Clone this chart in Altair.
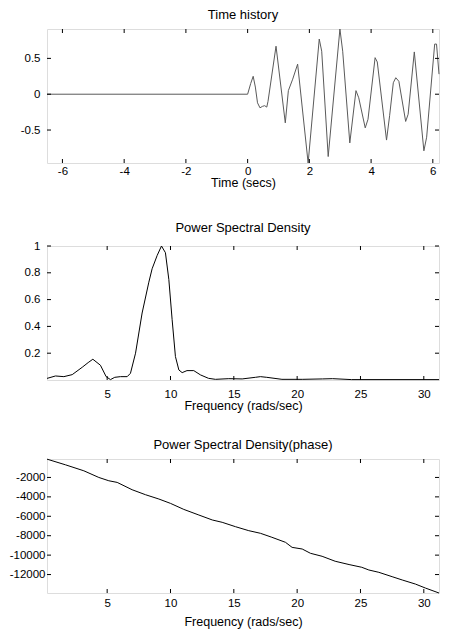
import altair as alt
import pandas as pd

# ---- data ----
t_vals = [-6.5, 0.0, 0.1, 0.18, 0.25, 0.32, 0.4, 0.48, 0.55, 0.62, 0.66, 0.92, 1.22, 1.32, 1.46, 1.62,
          1.96, 2.32, 2.4, 2.61, 2.99, 3.08, 3.31, 3.51, 3.6, 3.81, 3.9, 4.13, 4.2, 4.5, 4.6, 4.72,
          4.8, 4.9, 5.12, 5.2, 5.4, 5.71, 5.8, 6.06, 6.12, 6.2]
x_vals = [0.0, 0.0, 0.15, 0.25, 0.1, -0.12, -0.19, -0.17, -0.16, -0.18, -0.1, 0.67, -0.40, 0.05, 0.21, 0.42,
          -0.96, 0.77, 0.6, -0.87, 0.91, 0.6, -0.68, 0.05, -0.05, -0.47, -0.35, 0.51, 0.45, -0.64, -0.3, 0.16,
          0.23, 0.18, -0.38, -0.28, 0.59, -0.79, -0.6, 0.70, 0.70, 0.28]

psd_freq = [0.25, 0.92, 1.58, 2.24, 3.03, 3.5, 3.87, 4.47, 4.92, 5.26, 5.6, 6.05, 6.58, 6.84, 7.24, 7.76,
            8.29, 8.55, 8.95, 9.29, 9.6, 9.87, 10.13, 10.39, 10.66, 10.92, 11.3, 11.84, 12.37, 13.0,
            13.55, 14.6, 15.66, 16.7, 17.1, 17.6, 18.8, 20.4, 22.0, 22.8, 24.3, 31.2]
psd_vals = [0.012, 0.03, 0.025, 0.04, 0.095, 0.13, 0.155, 0.11, 0.025, 0.003, 0.02, 0.025, 0.025, 0.05, 0.2, 0.5,
            0.73, 0.83, 0.93, 1.0, 0.95, 0.75, 0.45, 0.175, 0.075, 0.055, 0.07, 0.07, 0.038, 0.0125,
            0.005, 0.01, 0.008, 0.02, 0.025, 0.02, 0.005, 0.005, 0.008, 0.01, 0.003, 0.003]

ph_freq = [0.25, 1.71, 3.16, 4.34, 5.13, 5.79, 6.97, 8.03, 9.08, 10.0, 11.05, 12.24, 13.3, 14.08, 15.13,
           16.18, 17.1, 18.0, 19.08, 19.6, 20.4, 21.05, 21.97, 23.0, 24.1, 25.1, 25.66, 26.45, 27.5,
           28.3, 29.34, 30.13, 31.2]
ph_vals = [-116, -700, -1315, -2000, -2340, -2510, -3265, -3780, -4220, -4670, -5290, -5870, -6380, -6620,
           -7070, -7480, -7750, -8160, -8680, -9200, -9370, -9810, -10120, -10630, -10970, -11250, -11530,
           -11770, -12220, -12560, -12980, -13390, -13900]

time_xticks = [-6, -4, -2, 0, 2, 4, 6]
time_yticks = [-0.5, 0, 0.5]
freq_xticks = [5, 10, 15, 20, 25, 30]
psd_yticks = [0.2, 0.4, 0.6, 0.8, 1]
ph_yticks = [-12000, -10000, -8000, -6000, -4000, -2000]

W, H = 392, 134
FONT = "Liberation Sans"
LFS = 11.5  # tick label font size
TFS = 13    # chart title font size
AFS = 12.5  # axis title font size
TL = 4      # inward tick length


def panel(xs, ys, xdom, ydom, xticks, yticks, title, xtitle, color,
          lab_pad_x, title_pad_x, lab_pad_y):
    line_df = pd.DataFrame({"xv": xs, "yv": ys})
    xt_df = pd.DataFrame({"xv": xticks})
    yt_df = pd.DataFrame({"yv": yticks})
    xsc = alt.Scale(domain=xdom, nice=False, zero=False)
    ysc = alt.Scale(domain=ydom, nice=False, zero=False)
    xaxis = alt.Axis(values=xticks, title=xtitle, grid=False, domain=False, ticks=False,
                     labelPadding=lab_pad_x, titlePadding=title_pad_x, labelFlush=False,
                     labelOverlap=False, labelBound=False, labelExpr="'' + datum.value",
                     labelFont=FONT, labelFontSize=LFS, labelColor="black",
                     titleFont=FONT, titleFontSize=AFS, titleFontWeight="normal", titleColor="black")
    yaxis = alt.Axis(values=yticks, title=None, grid=False, domain=False, ticks=False,
                     labelPadding=lab_pad_y, labelFlush=False, labelOverlap=False, labelBound=False,
                     labelExpr="'' + datum.value",
                     labelFont=FONT, labelFontSize=LFS, labelColor="black")
    X = alt.X("xv:Q", scale=xsc, axis=xaxis)
    Y = alt.Y("yv:Q", scale=ysc, axis=yaxis)
    line = alt.Chart(line_df).mark_line(color=color, strokeWidth=1).encode(
        x=X, y=Y, order="xv:Q",
    )
    xt_top = alt.Chart(xt_df).mark_rule(color="black", strokeWidth=1).encode(
        x=X, y=alt.value(0), y2=alt.value(TL))
    xt_bot = alt.Chart(xt_df).mark_rule(color="black", strokeWidth=1).encode(
        x=X, y=alt.value(H - TL), y2=alt.value(H))
    yt_left = alt.Chart(yt_df).mark_rule(color="black", strokeWidth=1).encode(
        y=Y, x=alt.value(0), x2=alt.value(TL))
    yt_right = alt.Chart(yt_df).mark_rule(color="black", strokeWidth=1).encode(
        y=Y, x=alt.value(W - TL), x2=alt.value(W))
    return alt.layer(line, xt_top, xt_bot, yt_left, yt_right).properties(
        width=W, height=H,
        title=alt.Title(title, font=FONT, fontSize=TFS, fontWeight="normal", color="black",
                        offset=5, anchor="middle"),
    )


p1 = panel(t_vals, x_vals, [-6.5, 6.2], [-0.96, 0.91], time_xticks, time_yticks,
           "Time history", "Time (secs)", "#5a5a5a", 2, 0, 7)
p2 = panel(psd_freq, psd_vals, [0.25, 31.2], [0.0, 1.0], freq_xticks, psd_yticks,
           "Power Spectral Density", "Frequency (rads/sec)", "black", 8, 0, 7)
p3 = panel(ph_freq, ph_vals, [0.25, 31.2], [-13900, -100], freq_xticks, ph_yticks,
           "Power Spectral Density(phase)", "Frequency (rads/sec)", "black", 4, 7, 2)

chart = alt.vconcat(alt.vconcat(p1, p2, spacing=31), p3, spacing=25).properties(
    padding={"left": 0, "top": 0, "right": 5, "bottom": 0}
).configure_view(stroke="black", strokeWidth=1).configure(background="white")

chart.save("out.html", embed_options={"renderer": "svg", "actions": False})
